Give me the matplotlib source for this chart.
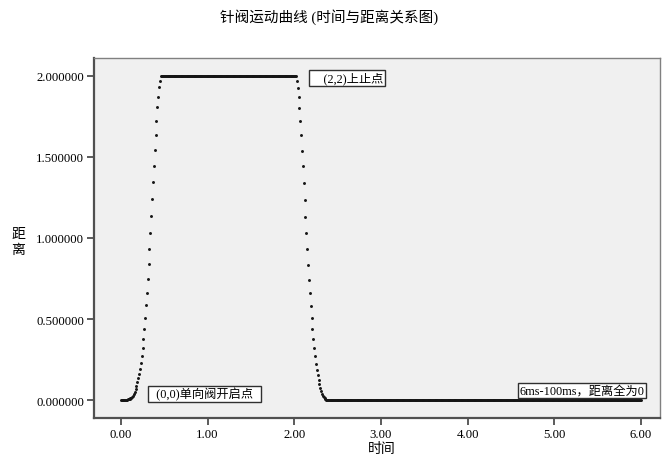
import numpy as np
import matplotlib
matplotlib.use('Agg')
import matplotlib.pyplot as plt
from matplotlib.ticker import FormatStrFormatter

# --- DADOS ---
TIME_STEP = 0.01

# subida: t = 0.00 ... 0.46
RISE_DIST = [0.000, 0.000, 0.000, 0.000, 0.001, 0.001, 0.002, 0.003, 0.004,
             0.006, 0.008, 0.011, 0.015, 0.020, 0.027, 0.037, 0.051, 0.068,
             0.088, 0.109, 0.134, 0.160, 0.191, 0.228, 0.270, 0.321, 0.377,
             0.440, 0.508, 0.586, 0.660, 0.747, 0.840, 0.934, 1.033, 1.134,
             1.239, 1.344, 1.444, 1.543, 1.638, 1.724, 1.807, 1.872, 1.928,
             1.971, 2.000]

# patamar superior: t = 0.47 ... 2.02, distância 2
TOP_START, TOP_END, TOP_DIST = 0.47, 2.02, 2.0

# descida: t = 2.03 ... 2.38
FALL_DIST = [1.971, 1.926, 1.870, 1.804, 1.722, 1.634, 1.539, 1.443, 1.338,
             1.233, 1.130, 1.029, 0.930, 0.835, 0.743, 0.660, 0.582, 0.504,
             0.436, 0.375, 0.319, 0.270, 0.224, 0.185, 0.152, 0.125, 0.099,
             0.076, 0.056, 0.040, 0.028, 0.018, 0.011, 0.006, 0.003, 0.001]

# repouso: t = 2.39 ... 6.00, distância 0
REST_START, REST_END, REST_DIST = 2.39, 6.00, 0.0

X_TICKS = [0, 1, 2, 3, 4, 5, 6]
Y_TICKS = [0.0, 0.5, 1.0, 1.5, 2.0]

TITLE = '针阀运动曲线 (时间与距离关系图)'
X_LABEL = '时间'
Y_LABEL = ['距', '离']

NOTES = [
    ('  (0,0)单向阀开启点  ', 0.335, 0.037),
    ('    (2,2)上止点', 2.19, 1.985),
    ('6ms-100ms，距离全为0', 4.6, 0.06),
]

# --- MONTAGEM DA SÉRIE ---
def steps(start, end):
    n = int(round((end - start) / TIME_STEP)) + 1
    return start + TIME_STEP * np.arange(n)

t_rise = steps(0.0, 0.46)
t_top = steps(TOP_START, TOP_END)
t_fall = steps(2.03, 2.38)
t_rest = steps(REST_START, REST_END)

time = np.concatenate([t_rise, t_top, t_fall, t_rest])
dist = np.concatenate([RISE_DIST, np.full(len(t_top), TOP_DIST),
                       FALL_DIST, np.full(len(t_rest), REST_DIST)])

# --- PLOT ---
plt.rcParams['font.family'] = ['Liberation Serif', 'Noto Sans CJK SC']

fig = plt.figure(figsize=(6.62, 4.56), dpi=100)
ax = fig.add_axes([0.142, 0.081, 0.855, 0.790])
ax.set_facecolor('#f0f0f0')

ax.scatter(time, dist, s=4.5, color='#151515', linewidths=0, zorder=3)

ax.set_xlim(-0.31, 6.22)
ax.set_ylim(-0.111, 2.111)
ax.set_xticks(X_TICKS)
ax.set_yticks(Y_TICKS)
ax.xaxis.set_major_formatter(FormatStrFormatter('%.2f'))
ax.yaxis.set_major_formatter(FormatStrFormatter('%.6f'))
ax.tick_params(axis='both', direction='out', length=5, width=1.2,
               color='#404040', labelsize=9.2, labelcolor='black', pad=2)

for side in ['left', 'bottom']:
    ax.spines[side].set_color('#505050')
    ax.spines[side].set_linewidth(1.6)
for side in ['top', 'right']:
    ax.spines[side].set_color('#808080')
    ax.spines[side].set_linewidth(1.0)

for text, x, y in NOTES:
    ax.text(x, y, text, fontsize=8.8, ha='left', va='center', zorder=4,
            bbox=dict(boxstyle='square,pad=0.12', facecolor='white',
                      edgecolor='#303030', linewidth=1.0))

fig.text(329 / 662, 1 - 17 / 456, TITLE, fontsize=10.5, ha='center', va='center')
fig.text(18 / 662, 1 - 235 / 456, Y_LABEL[0], fontsize=10, ha='center', va='center')
fig.text(18 / 662, 1 - 250 / 456, Y_LABEL[1], fontsize=10, ha='center', va='center')
fig.text(382 / 662, 1 - 450 / 456, X_LABEL, fontsize=10, ha='center', va='center')

fig.savefig('out.png', dpi=100)
